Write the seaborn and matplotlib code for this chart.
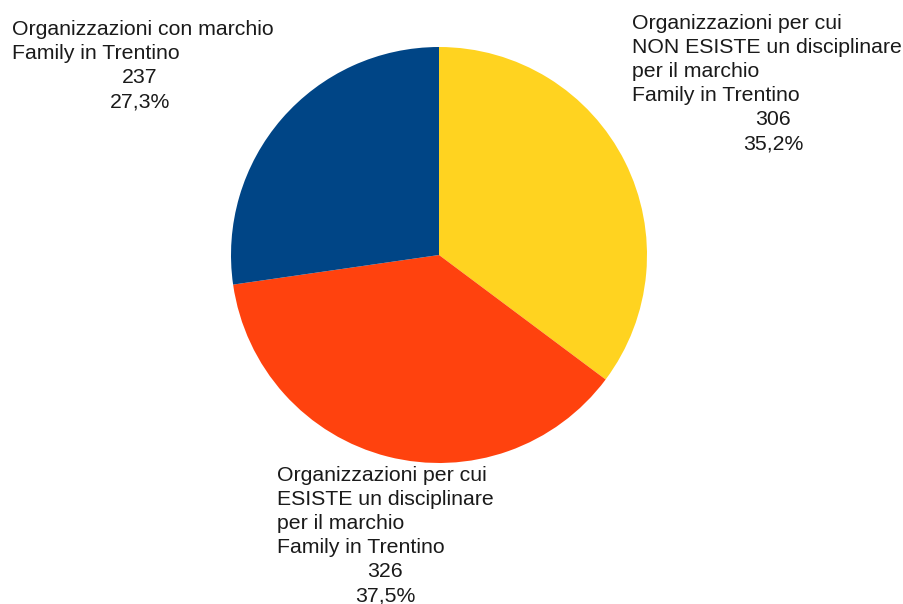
import matplotlib.pyplot as plt
import seaborn as sns

# Data
names = [
    "Organizzazioni per cui\nNON ESISTE un disciplinare\nper il marchio\nFamily in Trentino",
    "Organizzazioni per cui\nESISTE un disciplinare\nper il marchio\nFamily in Trentino",
    "Organizzazioni con marchio\nFamily in Trentino",
]
counts = [306, 326, 237]
colors = ["#FFD320", "#FF420E", "#004586"]

sns.set_style("white")
plt.rcParams['font.family'] = ['Liberation Sans', 'DejaVu Sans']

W, H = 904, 604
fig = plt.figure(figsize=(W / 100, H / 100), dpi=100)
ax = fig.add_axes([0, 0, 1, 1])

ax.pie(counts, colors=colors, startangle=90, counterclock=False,
       center=(439, H - 255), radius=208, frame=True,
       wedgeprops=dict(linewidth=0))
ax.set_xlim(0, W)
ax.set_ylim(0, H)
ax.set_aspect('equal')
ax.axis('off')

total = sum(counts)
pcts = [f"{c / total * 100:.1f}%".replace('.', ',') for c in counts]

# label anchors: (name left x, name top y, value center x) in pixels from top-left
anchors = [(632, 14, 773), (277, 466, 385), (12, 20, 140)]
line_h = 24.0
fs = 15.3
for name, c, p, (lx, ty, cx) in zip(names, counts, pcts, anchors):
    lines = name.split("\n") + [str(c), p]
    for i, line in enumerate(lines):
        y = H - (ty + i * line_h)
        if i < len(lines) - 2:
            ax.text(lx, y, line, ha='left', va='top', fontsize=fs, color='#1a1a1a')
        else:
            ax.text(cx, y, line, ha='center', va='top', fontsize=fs, color='#1a1a1a')

fig.savefig('out.png', dpi=100)
